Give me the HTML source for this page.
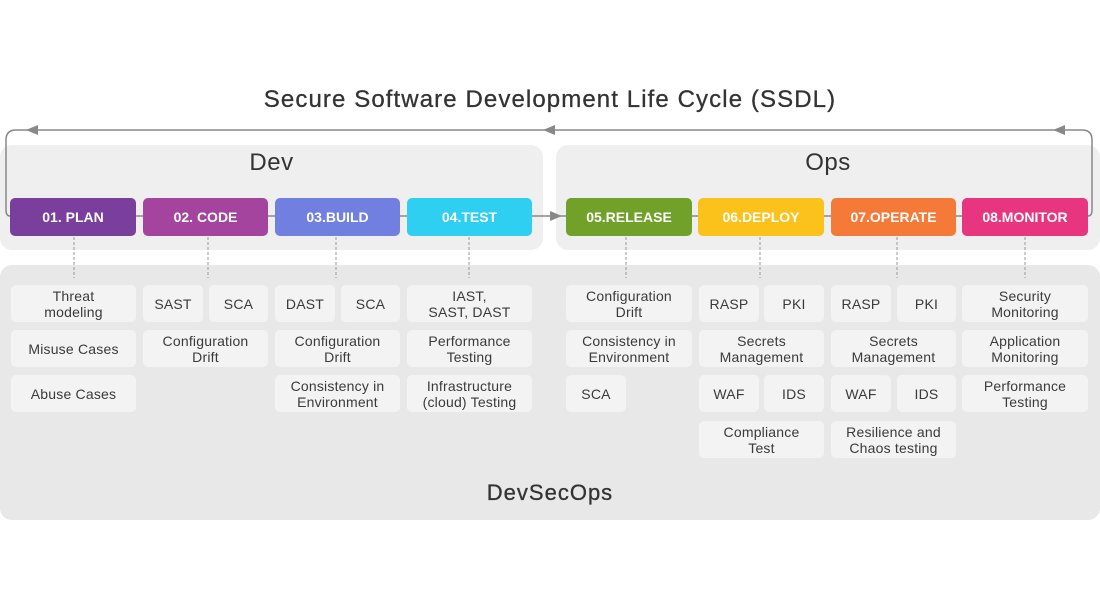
<!DOCTYPE html>
<html><head><meta charset="utf-8"><style>
*{margin:0;padding:0;box-sizing:border-box}
body{width:1100px;height:600px;background:#fff;position:relative;font-family:"Liberation Sans",sans-serif;color:#333;overflow:hidden}
.a{position:absolute}
.panel{position:absolute;background:#efefef;border-radius:12px}
.st{position:absolute;top:198px;height:38px;border-radius:5px;color:#fff;font-weight:bold;font-size:14px;display:flex;align-items:center;justify-content:center}
.c{position:absolute;height:37px;background:#f3f3f3;border-radius:5px;font-size:14px;color:#3a3a3a;display:flex;align-items:center;justify-content:center;text-align:center;line-height:16px;letter-spacing:0.2px}
.t{position:absolute;width:100%;text-align:center}
</style></head><body>
<div class="t" style="top:86px;font-size:24px;color:#333;letter-spacing:1.1px;-webkit-text-stroke:0.3px #333">Secure Software Development Life Cycle (SSDL)</div>
<div class="panel" style="left:0;top:145px;width:543px;height:105px"></div>
<div class="panel" style="left:556px;top:145px;width:544px;height:105px"></div>
<div class="panel" style="left:0;top:265px;width:1100px;height:255px;background:#e8e8e8"></div>
<div class="a" style="left:0;top:149px;width:543px;text-align:center;font-size:24px;letter-spacing:0.5px">Dev</div>
<div class="a" style="left:556px;top:149px;width:544px;text-align:center;font-size:24px;letter-spacing:0.5px">Ops</div>
<div class="a" style="left:0;top:480px;width:1100px;text-align:center;font-size:22px;letter-spacing:1px;-webkit-text-stroke:0.3px #333">DevSecOps</div>
<svg class="a" style="left:0;top:0" width="1100" height="600">
<g fill="none" stroke="#888" stroke-width="1.5">
<path d="M12 216 L10 216 Q6 216 6 210 L6 140 Q6 130 16 130 L1082 130 Q1092 130 1092 140 L1092 210 Q1092 216 1088 216"/>
<line x1="10" y1="216" x2="560" y2="216"/>
<line x1="560" y1="216" x2="1088" y2="216"/>
</g>
<g fill="#888">
<polygon points="26,130 38,125 38,135"/>
<polygon points="543,130 555,125 555,135"/>
<polygon points="1053,130 1065,125 1065,135"/>
<polygon points="562,216 550,211 550,221"/>
</g>
<g stroke="#999" stroke-width="1" stroke-dasharray="3,2">
<line x1="74" y1="237" x2="74" y2="278"/><line x1="208" y1="237" x2="208" y2="278"/>
<line x1="336" y1="237" x2="336" y2="278"/><line x1="469" y1="237" x2="469" y2="278"/>
<line x1="626" y1="237" x2="626" y2="278"/><line x1="760" y1="237" x2="760" y2="278"/>
<line x1="897" y1="237" x2="897" y2="278"/><line x1="1025" y1="237" x2="1025" y2="278"/>
</g>
</svg>
<div class="st" style="left:10px;width:126px;background:#7a3e9d">01. PLAN</div>
<div class="st" style="left:143px;width:125px;background:#a4449e">02. CODE</div>
<div class="st" style="left:275px;width:125px;background:#717fe0">03.BUILD</div>
<div class="st" style="left:407px;width:125px;background:#2ecff0">04.TEST</div>
<div class="st" style="left:566px;width:126px;background:#72a12a">05.RELEASE</div>
<div class="st" style="left:698px;width:126px;background:#fbc21c">06.DEPLOY</div>
<div class="st" style="left:831px;width:125px;background:#f57a38">07.OPERATE</div>
<div class="st" style="left:962px;width:126px;background:#e8357f">08.MONITOR</div>

<div class="c" style="left:11px;top:285px;width:125px">Threat<br>modeling</div>
<div class="c" style="left:11px;top:330px;width:125px">Misuse Cases</div>
<div class="c" style="left:11px;top:375px;width:125px">Abuse Cases</div>

<div class="c" style="left:143px;top:285px;width:60px">SAST</div>
<div class="c" style="left:209px;top:285px;width:59px">SCA</div>
<div class="c" style="left:143px;top:330px;width:125px">Configuration<br>Drift</div>

<div class="c" style="left:275px;top:285px;width:60px">DAST</div>
<div class="c" style="left:341px;top:285px;width:59px">SCA</div>
<div class="c" style="left:275px;top:330px;width:125px">Configuration<br>Drift</div>
<div class="c" style="left:275px;top:375px;width:125px">Consistency in<br>Environment</div>

<div class="c" style="left:407px;top:285px;width:125px">IAST,<br>SAST, DAST</div>
<div class="c" style="left:407px;top:330px;width:125px">Performance<br>Testing</div>
<div class="c" style="left:407px;top:375px;width:125px">Infrastructure<br>(cloud) Testing</div>

<div class="c" style="left:566px;top:285px;width:126px">Configuration<br>Drift</div>
<div class="c" style="left:566px;top:330px;width:126px">Consistency in<br>Environment</div>
<div class="c" style="left:566px;top:375px;width:60px">SCA</div>

<div class="c" style="left:699px;top:285px;width:60px">RASP</div>
<div class="c" style="left:764px;top:285px;width:60px">PKI</div>
<div class="c" style="left:699px;top:330px;width:125px">Secrets<br>Management</div>
<div class="c" style="left:699px;top:375px;width:60px">WAF</div>
<div class="c" style="left:764px;top:375px;width:60px">IDS</div>
<div class="c" style="left:699px;top:421px;width:125px">Compliance<br>Test</div>

<div class="c" style="left:831px;top:285px;width:60px">RASP</div>
<div class="c" style="left:897px;top:285px;width:59px">PKI</div>
<div class="c" style="left:831px;top:330px;width:125px">Secrets<br>Management</div>
<div class="c" style="left:831px;top:375px;width:60px">WAF</div>
<div class="c" style="left:897px;top:375px;width:59px">IDS</div>
<div class="c" style="left:831px;top:421px;width:125px">Resilience and<br>Chaos testing</div>

<div class="c" style="left:962px;top:285px;width:126px">Security<br>Monitoring</div>
<div class="c" style="left:962px;top:330px;width:126px">Application<br>Monitoring</div>
<div class="c" style="left:962px;top:375px;width:126px">Performance<br>Testing</div>
</body></html>
